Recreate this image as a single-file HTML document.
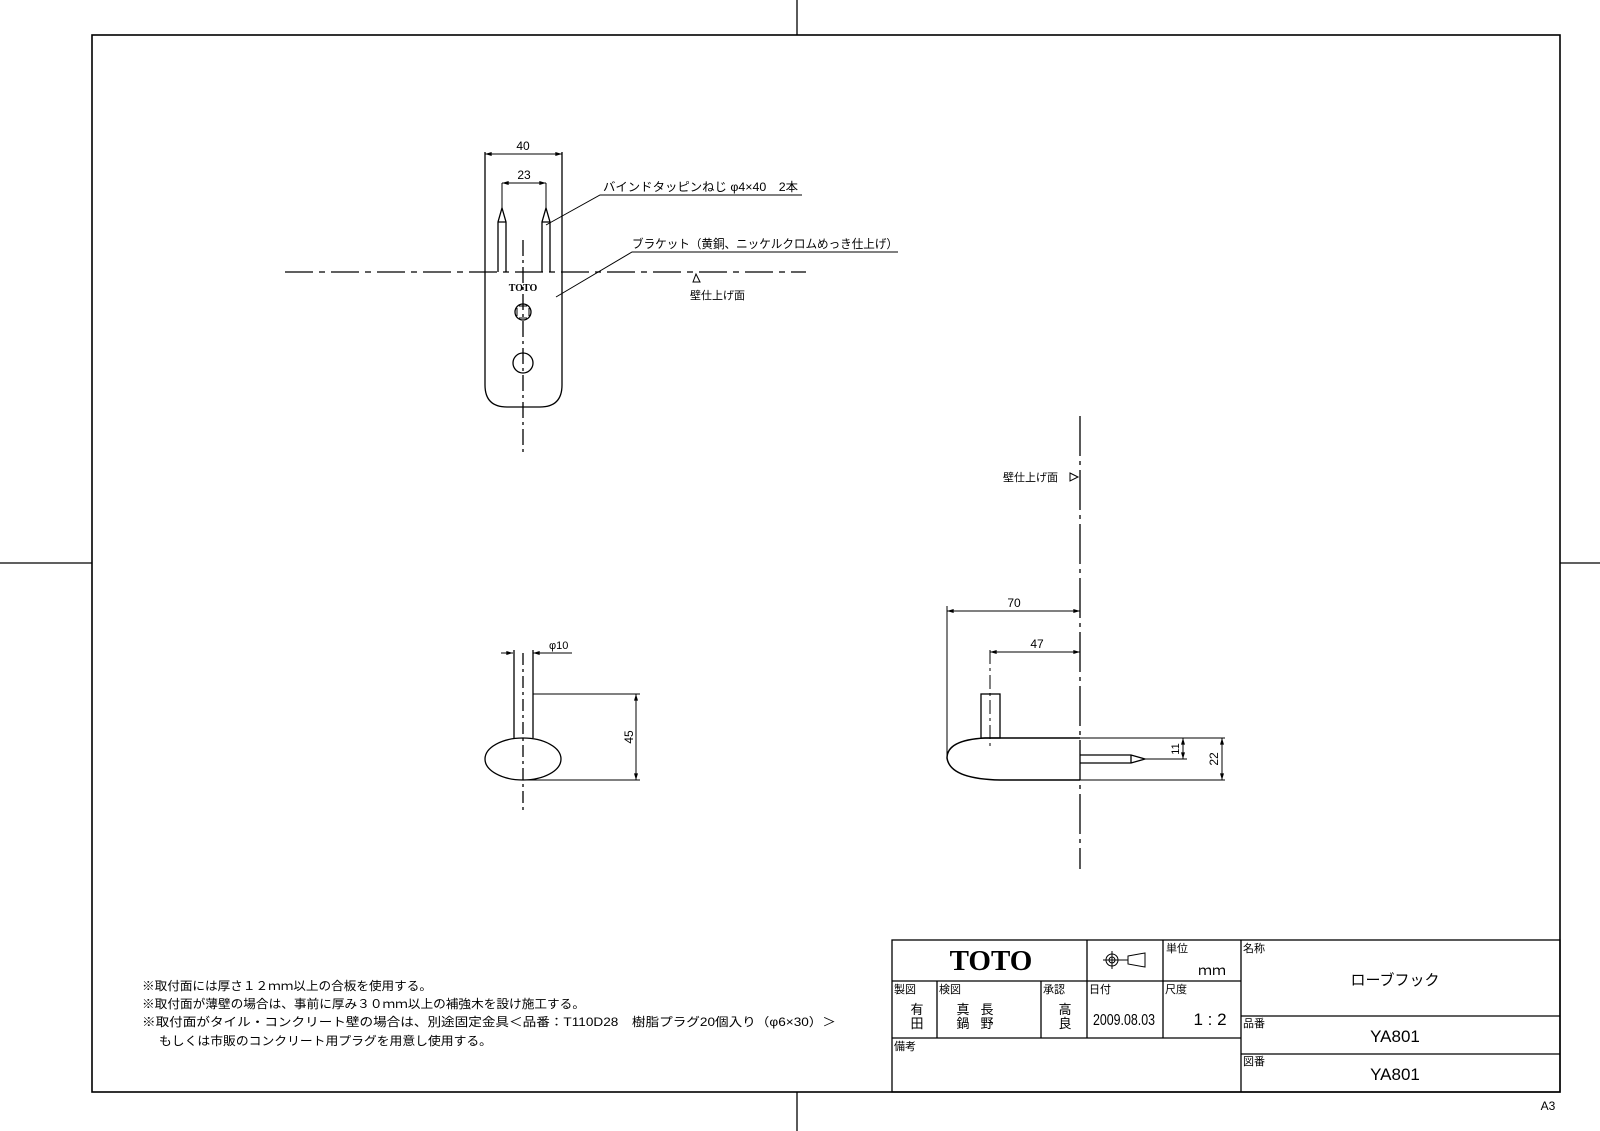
<!DOCTYPE html>
<html><head><meta charset="utf-8"><style>
html,body{margin:0;padding:0;background:#fff}
svg{display:block}
text{font-family:"Liberation Sans","Noto Sans CJK JP",sans-serif;fill:#000}
</style></head><body>
<svg width="1600" height="1131" viewBox="0 0 1600 1131" xmlns="http://www.w3.org/2000/svg">
<defs>
<marker id="a" viewBox="0 0 10 6" refX="10" refY="3" markerWidth="7" markerHeight="4" orient="auto-start-reverse" markerUnits="userSpaceOnUse"><path d="M0,0 L10,3 L0,6 z" fill="#000"/></marker>
</defs>
<g stroke="#000" fill="none" stroke-width="1.3">
<rect x="92" y="35" width="1468" height="1057" stroke-width="1.6"/>
<line x1="797" y1="0" x2="797" y2="35"/>
<line x1="797" y1="1092" x2="797" y2="1131"/>
<line x1="0" y1="563" x2="92" y2="563"/>
<line x1="1560" y1="563" x2="1600" y2="563"/>

<!-- TOP VIEW -->
<path d="M485,152 L485,385 Q485,407 507,407 L540,407 Q562,407 562,385 L562,152"/>
<line x1="485" y1="154" x2="562" y2="154" stroke-width="1" marker-start="url(#a)" marker-end="url(#a)"/>
<line x1="502" y1="183" x2="546" y2="183" stroke-width="1" marker-start="url(#a)" marker-end="url(#a)"/>
<line x1="502" y1="183" x2="502" y2="210" stroke-width="1"/>
<line x1="546" y1="183" x2="546" y2="210" stroke-width="1"/>
<path d="M498,272 L498,222 L502,208 L506,222 L506,272 M498,222 L506,222"/>
<path d="M542,272 L542,222 L546,208 L550,222 L550,272 M542,222 L550,222"/>
<line x1="523" y1="240" x2="523" y2="453" stroke-dasharray="16,4,3,4"/>
<line x1="285" y1="272" x2="806" y2="272" stroke-dasharray="28,6,6,6"/>
<path d="M693,282 L696,274 L700,282 z" stroke-width="1"/>
<circle cx="523" cy="312" r="8"/>
<path d="M519,306 h8 M519,318 h8 M517,308 v8 M529,308 v8" stroke-width="1"/>
<circle cx="523" cy="363" r="10"/>
<polyline points="546,225 600,195 802,195" stroke-width="1"/>
<polyline points="556,297 632,252 898,252" stroke-width="1"/>

<!-- BOTTOM-LEFT VIEW -->
<line x1="501" y1="653" x2="513" y2="653" stroke-width="1" marker-end="url(#a)"/>
<line x1="545" y1="653" x2="533" y2="653" stroke-width="1" marker-end="url(#a)"/>
<line x1="533" y1="653" x2="572" y2="653" stroke-width="1"/>
<line x1="514" y1="650" x2="514" y2="738"/>
<line x1="533" y1="650" x2="533" y2="738"/>
<ellipse cx="523" cy="759" rx="38" ry="21"/>
<line x1="523" y1="653" x2="523" y2="813" stroke-dasharray="12,4,3,4"/>
<line x1="533" y1="694" x2="640" y2="694" stroke-width="1"/>
<line x1="523" y1="780" x2="640" y2="780" stroke-width="1"/>
<line x1="636" y1="694" x2="636" y2="780" stroke-width="1" marker-start="url(#a)" marker-end="url(#a)"/>

<!-- RIGHT VIEW -->
<line x1="1080" y1="416" x2="1080" y2="869" stroke-dasharray="40,5,4,5"/>
<line x1="947" y1="611" x2="1080" y2="611" stroke-width="1" marker-start="url(#a)" marker-end="url(#a)"/>
<line x1="990" y1="652" x2="1080" y2="652" stroke-width="1" marker-start="url(#a)" marker-end="url(#a)"/>
<line x1="947" y1="606" x2="947" y2="758" stroke-width="1"/>
<line x1="990" y1="650" x2="990" y2="750" stroke-width="1" stroke-dasharray="14,4,3,4"/>
<rect x="981" y="694" width="19" height="44"/>
<path d="M1080,738 L985,738 Q947,740 947,758 Q950,779 1000,780 L1080,780" stroke-width="1.5"/>
<line x1="1080" y1="738" x2="1225" y2="738" stroke-width="1"/>
<line x1="1080" y1="780" x2="1225" y2="780" stroke-width="1"/>
<path d="M1080,755 L1131,755 L1145,759 L1131,763 L1080,763 M1131,755 L1131,763"/>
<line x1="1145" y1="759" x2="1187" y2="759" stroke-width="1"/>
<line x1="1183" y1="738" x2="1183" y2="759" stroke-width="1" marker-start="url(#a)" marker-end="url(#a)"/>
<line x1="1222" y1="738" x2="1222" y2="780" stroke-width="1" marker-start="url(#a)" marker-end="url(#a)"/>
<path d="M1070,473 L1078,477 L1070,481 z" stroke-width="1"/>

<!-- TITLE BLOCK -->
<rect x="892" y="940" width="668" height="152"/>
<line x1="1241" y1="940" x2="1241" y2="1092"/>
<line x1="892" y1="981" x2="1241" y2="981"/>
<line x1="892" y1="1038" x2="1241" y2="1038"/>
<line x1="1087" y1="940" x2="1087" y2="1038"/>
<line x1="1163" y1="940" x2="1163" y2="1038"/>
<line x1="937" y1="981" x2="937" y2="1038"/>
<line x1="1041" y1="981" x2="1041" y2="1038"/>
<line x1="1241" y1="1016" x2="1560" y2="1016"/>
<line x1="1241" y1="1054" x2="1560" y2="1054"/>
<circle cx="1112" cy="960" r="6" stroke-width="1"/>
<circle cx="1112" cy="960" r="3" stroke-width="1"/>
<path d="M1103,960 H1128 M1112,951 V969" stroke-width="1"/>
<path d="M1128,956 L1145,953 L1145,967 L1128,964 z" stroke-width="1"/>
</g>

<g font-size="11">
<text x="523" y="150" text-anchor="middle" font-size="12">40</text>
<text x="524" y="179" text-anchor="middle" font-size="12">23</text>
<text x="603" y="191" font-size="12" textLength="195" lengthAdjust="spacingAndGlyphs">バインドタッピンねじ φ4×40　2本</text>
<text x="632" y="248" font-size="12" textLength="266" lengthAdjust="spacingAndGlyphs">ブラケット（黄銅、ニッケルクロムめっき仕上げ）</text>
<text x="690" y="299" font-size="11">壁仕上げ面</text>
<text x="523" y="291" text-anchor="middle" style="font-family:'Liberation Serif',serif;font-weight:bold;font-size:10px">TOTO</text>
<text x="549" y="649" font-size="11">φ10</text>
<text transform="translate(633,737) rotate(-90)" text-anchor="middle" font-size="12">45</text>
<text x="1014" y="607" text-anchor="middle" font-size="12">70</text>
<text x="1037" y="648" text-anchor="middle" font-size="12">47</text>
<text transform="translate(1179,749) rotate(-90)" text-anchor="middle" font-size="11">11</text>
<text transform="translate(1218,759) rotate(-90)" text-anchor="middle" font-size="12">22</text>
<text x="1003" y="481" font-size="11">壁仕上げ面</text>

<text x="142" y="990" font-size="12" textLength="290" lengthAdjust="spacingAndGlyphs">※取付面には厚さ１２ｍｍ以上の合板を使用する。</text>
<text x="142" y="1008" font-size="12" textLength="443" lengthAdjust="spacingAndGlyphs">※取付面が薄壁の場合は、事前に厚み３０ｍｍ以上の補強木を設け施工する。</text>
<text x="142" y="1026" font-size="12" textLength="694" lengthAdjust="spacingAndGlyphs">※取付面がタイル・コンクリート壁の場合は、別途固定金具＜品番：T110D28　樹脂プラグ20個入り（φ6×30）＞</text>
<text x="159" y="1045" font-size="12" textLength="333" lengthAdjust="spacingAndGlyphs">もしくは市販のコンクリート用プラグを用意し使用する。</text>

<text x="991" y="970" text-anchor="middle" style="font-family:'Liberation Serif',serif;font-weight:bold;font-size:29px">TOTO</text>
<text x="1166" y="952">単位</text>
<text x="1212" y="975" text-anchor="middle" font-size="14">ｍｍ</text>
<text x="1243" y="952">名称</text>
<text x="1395" y="985" text-anchor="middle" font-size="15">ローブフック</text>
<text x="894" y="993">製図</text>
<text x="917" y="1014" text-anchor="middle" font-size="13">有</text>
<text x="917" y="1028" text-anchor="middle" font-size="13">田</text>
<text x="939" y="993">検図</text>
<text x="963" y="1014" text-anchor="middle" font-size="13">真</text>
<text x="963" y="1028" text-anchor="middle" font-size="13">鍋</text>
<text x="987" y="1014" text-anchor="middle" font-size="13">長</text>
<text x="987" y="1028" text-anchor="middle" font-size="13">野</text>
<text x="1043" y="993">承認</text>
<text x="1065" y="1014" text-anchor="middle" font-size="13">高</text>
<text x="1065" y="1028" text-anchor="middle" font-size="13">良</text>
<text x="1089" y="993">日付</text>
<text x="1124" y="1025" text-anchor="middle" font-size="16" textLength="62" lengthAdjust="spacingAndGlyphs">2009.08.03</text>
<text x="1165" y="993">尺度</text>
<text x="1210" y="1025" text-anchor="middle" font-size="17">1 : 2</text>
<text x="894" y="1050">備考</text>
<text x="1243" y="1027">品番</text>
<text x="1395" y="1042" text-anchor="middle" font-size="17">YA801</text>
<text x="1243" y="1065">図番</text>
<text x="1395" y="1080" text-anchor="middle" font-size="17">YA801</text>
<text x="1548" y="1110" text-anchor="middle" font-size="12">A3</text>
</g>
</svg>
</body></html>
